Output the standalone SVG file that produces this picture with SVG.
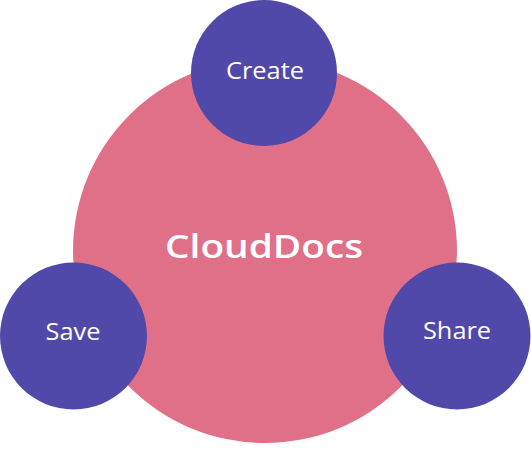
<svg xmlns="http://www.w3.org/2000/svg" width="531" height="456" viewBox="0 0 531 456">
<style>
.hub{fill:#E07088}
.sat{fill:#5149AA}
.t{fill:#ffffff;font-family:"Open Sans","Liberation Sans",sans-serif;text-anchor:middle}
.s{font-size:23px}
.b{font-size:32px;font-weight:600}
</style>
<g id="connectors"></g>
<g id="node-clouddocs">
<circle class="hub" cx="265" cy="251" r="192"/>
<text class="t b" x="264" y="258" textLength="198" lengthAdjust="spacingAndGlyphs">CloudDocs</text>
</g>
<g id="node-create">
<circle class="sat" cx="264" cy="73" r="73"/>
<text class="t s" x="265" y="79" textLength="78" lengthAdjust="spacingAndGlyphs">Create</text>
</g>
<g id="node-save">
<circle class="sat" cx="73.5" cy="336" r="73.5"/>
<text class="t s" x="73" y="340" textLength="55" lengthAdjust="spacingAndGlyphs">Save</text>
</g>
<g id="node-share">
<circle class="sat" cx="457" cy="336" r="73.5"/>
<text class="t s" x="457" y="339" textLength="68" lengthAdjust="spacingAndGlyphs">Share</text>
</g>
</svg>
